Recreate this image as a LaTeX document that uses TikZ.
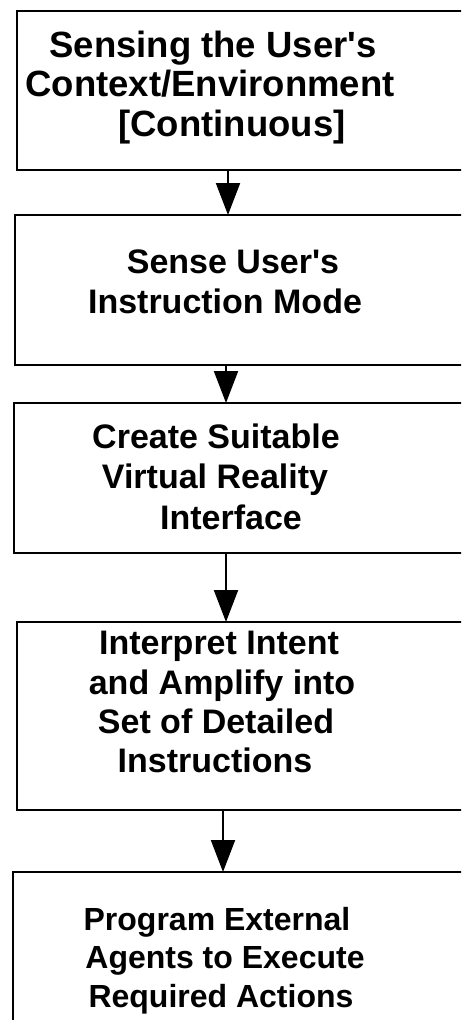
\documentclass[tikz,border=0pt]{standalone}
\usepackage{fontspec}
\setmainfont{Liberation Sans}
\newfontfamily\boxfont{Liberation Sans}[UprightFont=* Bold]
\usetikzlibrary{arrows.meta}
\tikzset{
  x=1pt, y=-1pt,
  flowbox/.style={draw, line width=2.9pt, anchor=north west, inner sep=0pt, outer sep=0pt, minimum width=480pt},
  txt/.style={font=\boxfont\fontsize{34}{40}\selectfont, anchor=base, inner sep=0pt},
  bigtxt/.style={txt, font=\boxfont\fontsize{36.5}{40}\selectfont},
  smalltxt/.style={txt, font=\boxfont\fontsize{32}{40}\selectfont},
  arr/.style={line width=2pt, -{Triangle[length=32pt,width=24pt]}},
}
\begin{document}
\begin{tikzpicture}
\clip (0,0) rectangle (461,1020);
\fill[white] (0,0) rectangle (461,1020);
% boxes
\node[flowbox, minimum height=159pt] (b1) at (17,11) {};
\node[flowbox, minimum height=150pt] (b2) at (15,215) {};
\node[flowbox, minimum height=150pt] (b3) at (14,403) {};
\node[flowbox, minimum height=188pt] (b4) at (17,622) {};
\node[flowbox, minimum height=200pt] (b5) at (13,872) {};
% texts
\node[bigtxt] (t1a) at (213,57) {Sensing the User\textquotesingle s};
\node[bigtxt] (t1b) at (210,96) {Context/Environment};
\node[bigtxt] (t1c) at (232,136) {[Continuous]};
\node[txt] (t2a) at (233,273) {Sense User\textquotesingle s};
\node[txt] (t2b) at (225,313) {Instruction Mode};
\node[txt] (t3a) at (216,448) {Create Suitable};
\node[txt] (t3b) at (215,488) {Virtual Reality};
\node[txt] (t3c) at (231,529) {Interface};
\node[txt] (t4a) at (219,654) {Interpret Intent};
\node[txt] (t4b) at (222,694) {and Amplify into};
\node[txt] (t4c) at (216,733) {Set of Detailed};
\node[txt] (t4d) at (215,772) {Instructions};
\node[smalltxt] (t5a) at (217,930) {Program External};
\node[smalltxt] (t5b) at (225,968) {Agents to Execute};
\node[smalltxt] (t5c) at (221,1007) {Required Actions};
% arrows
\coordinate (a1) at (228,0);
\coordinate (a2) at (226,0);
\coordinate (a3) at (226,0);
\coordinate (a4) at (223,0);
\draw[arr] (b1.south -| a1) -- (b2.north -| a1);
\draw[arr] (b2.south -| a2) -- (b3.north -| a2);
\draw[arr] (b3.south -| a3) -- (b4.north -| a3);
\draw[arr] (b4.south -| a4) -- (b5.north -| a4);
\end{tikzpicture}
\end{document}
